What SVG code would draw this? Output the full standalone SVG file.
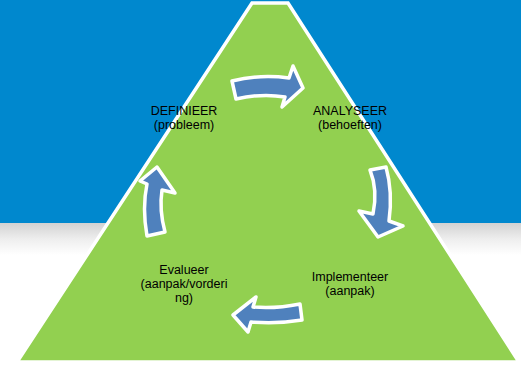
<svg xmlns="http://www.w3.org/2000/svg" width="522" height="368" viewBox="0 0 522 368">
  <defs>
    <linearGradient id="shade" x1="0" y1="0" x2="0" y2="1">
      <stop offset="0" stop-color="#d2d2d2"/>
      <stop offset="0.5" stop-color="#eeeeee"/>
      <stop offset="1" stop-color="#ffffff"/>
    </linearGradient>
  </defs>
  <style>
    .arrow { fill: #4F81BD; stroke: #ffffff; stroke-width: 3.5; stroke-linejoin: round; }
    .lbl { font-family: "Liberation Sans", Arial, sans-serif; font-size: 12.5px; fill: #000000; text-anchor: middle; }
  </style>
  <rect x="0" y="0" width="522" height="368" fill="#ffffff"/>
  <rect x="0" y="0" width="521" height="223" fill="#0088CE"/>
  <rect x="0" y="223" width="521" height="32" fill="url(#shade)"/>
  <g id="triangle">
    <path d="M252,3 L288,3 L519,362 L17,362 Z" fill="#92D050" stroke="#ffffff" stroke-width="3.5" stroke-linejoin="miter"/>
  </g>
  <g id="connectors">
    <path class="arrow" d="M232,81 Q260,74 289,78 L293,66 L303,88 L282,107 L285,97 Q262,93 236,99 Z"/>
    <path class="arrow" d="M370,170 Q378,190 373,214 L359,211 L378,237 L403,226 L389,221 Q393,192 386,167 Z"/>
    <path class="arrow" d="M300,304 Q275,309 253,307 L256,297 L233,315 L248,332 L251,322 Q278,324 302,320 Z"/>
    <path class="arrow" d="M165,232 Q159,210 162,190 L175,193 L157,167 L140,181 L147,184 Q142,208 147,236 Z"/>
  </g>
  <g id="node-definieer">
    <text class="lbl" x="184" y="115">DEFINIEER</text>
    <text class="lbl" x="184" y="129">(probleem)</text>
  </g>
  <g id="node-analyseer">
    <text class="lbl" x="350" y="115">ANALYSEER</text>
    <text class="lbl" x="350" y="129">(behoeften)</text>
  </g>
  <g id="node-implementeer">
    <text class="lbl" x="350" y="281">Implementeer</text>
    <text class="lbl" x="350" y="295">(aanpak)</text>
  </g>
  <g id="node-evalueer">
    <text class="lbl" x="184" y="274">Evalueer</text>
    <text class="lbl" x="184" y="288">(aanpak/vorderi</text>
    <text class="lbl" x="184" y="302">ng)</text>
  </g>
</svg>
